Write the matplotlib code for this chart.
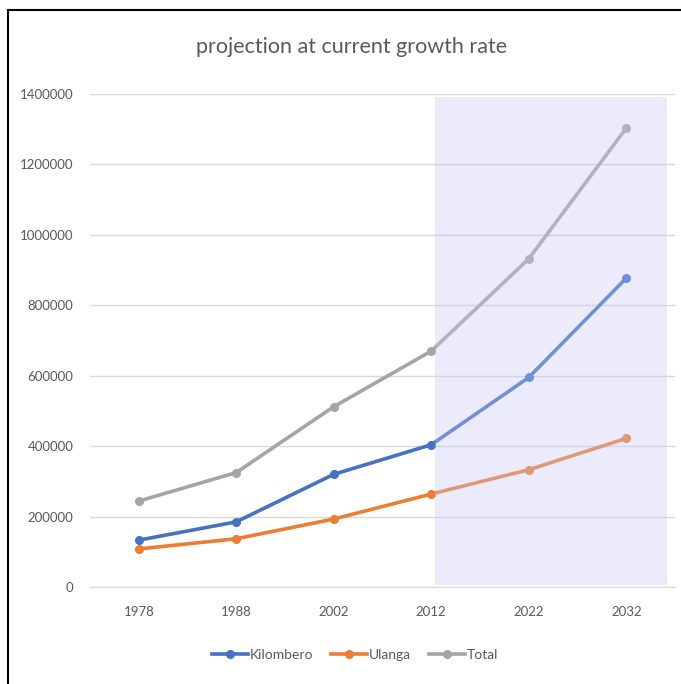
import matplotlib
matplotlib.use('Agg')
import matplotlib.pyplot as plt
from matplotlib.patches import Rectangle
from matplotlib.lines import Line2D

years = ['1978', '1988', '2002', '2012', '2022', '2032']
kilombero = [133000, 185000, 320000, 404000, 595000, 877000]
ulanga = [108000, 137000, 193000, 264000, 333000, 422000]
total = [244000, 325000, 512000, 670000, 932000, 1303000]

plt.rcParams['font.family'] = ['Lato', 'DejaVu Sans']
txt = '#595959'

fig = plt.figure(figsize=(6.81, 6.84), dpi=100)
ax = fig.add_axes([90/681, 1-587/684, 585/681, 493/684])

x = range(len(years))
ax.plot(x, kilombero, color='#4472c4', lw=2.6, marker='o', ms=5.5, label='Kilombero', zorder=3)
ax.plot(x, ulanga, color='#ed7d31', lw=2.6, marker='o', ms=5.5, label='Ulanga', zorder=3)
ax.plot(x, total, color='#a5a5a5', lw=2.6, marker='o', ms=5.5, label='Total', zorder=3)

# shaded projection zone, drawn over the lines so they look paler
ax.add_patch(Rectangle((3.04, 6000), 2.38, 1386000, facecolor='#c8c8f8',
                       edgecolor='none', alpha=0.36, zorder=4))

ax.set_xlim(-0.5, 5.5)
ax.set_ylim(0, 1400000)
ax.set_yticks(range(0, 1400001, 200000))
ax.set_yticklabels([str(v) for v in range(0, 1400001, 200000)])
ax.set_xticks(list(x))
ax.set_xticklabels(years)
ax.grid(axis='y', color='#d9d9d9', lw=1)
ax.set_axisbelow(True)
for s in ['top', 'right', 'left']:
    ax.spines[s].set_visible(False)
ax.spines['bottom'].set_color('#d9d9d9')
ax.tick_params(length=0, colors=txt, labelsize=9.5)
ax.tick_params(axis='x', pad=14)
ax.tick_params(axis='y', pad=12)

fig.text(352/681, 1-47/684, 'projection at current growth rate', ha='center', va='center',
         fontsize=15.5, color=txt)

fig.legend(loc='center', bbox_to_anchor=(355/681, 1-655/684), ncol=3, frameon=False,
           fontsize=10, labelcolor=txt, handlelength=2.6, handletextpad=0.1, columnspacing=1.3)

# screenshot frame
fig.add_artist(Line2D([8/681, 8/681], [0, 1-10/684], color='black', lw=1.5, transform=fig.transFigure))
fig.add_artist(Line2D([8/681, 1], [1-10/684, 1-10/684], color='black', lw=1.5, transform=fig.transFigure))

fig.savefig('out.png', dpi=100)
